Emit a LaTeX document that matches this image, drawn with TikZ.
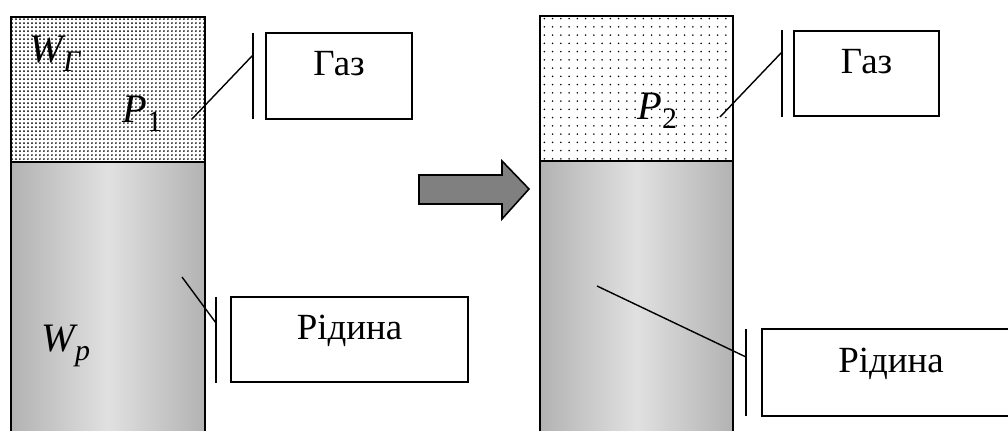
\documentclass[tikz,border=0pt]{standalone}
\usepackage{fontspec}
\setmainfont{Liberation Serif}
\usetikzlibrary{patterns.meta}
\newcommand{\lowidx}[1]{\raisebox{-0.2em}{\fontsize{17}{17}\selectfont #1}}

\begin{document}
\begin{tikzpicture}[x=0.02cm, y=-0.02cm,
    wall/.style={draw=black, line width=0.9pt},
    liquid/.style={wall, left color=black!30, right color=black!30, middle color=black!12},
    densegas/.style={wall, pattern={Dots[distance=0.08cm, radius=0.55pt]}},
    sparsegas/.style={wall, pattern={Dots[distance=0.165cm, radius=0.5pt]}},
    tagbox/.style={draw, line width=0.9pt, inner sep=0pt, text height=0.7em, text depth=0.7em,
      font=\fontsize{21}{25}\selectfont},
    qty/.style={inner sep=0pt, anchor=base west, font=\fontsize{23}{27}\selectfont\itshape},
    bar/.style={line width=1.1pt},
    leader/.style={line width=0.8pt}]
  \useasboundingbox (0,0) rectangle (1008,431);
  \clip (0,0) rectangle (1008,431);
  % left column, before
  \draw[densegas] (11,17) rectangle (205,162);
  \draw[liquid] (11,162) rectangle (205,445);
  \node[qty] (wgas) at (29,63) {W\lowidx{Г}};
  \node[qty] (p1) at (122,123) {P\lowidx{\upshape 1}};
  \node[qty] (wliq) at (41,352) {W\lowidx{p}};
  % right column, after
  \draw[sparsegas] (540,16) rectangle (733,161);
  \draw[liquid] (540,161) rectangle (733,445);
  \node[qty] (p2) at (637,120) {P\lowidx{\upshape 2}};
  % arrow between
  \draw[wall, fill=black!50] (419,175) -- (502,175) -- (502,161) -- (529,189)
    -- (502,219) -- (502,204) -- (419,204) -- cycle;
  % callouts
  \node[tagbox, minimum width=2.92cm, minimum height=1.72cm] (gas1) at (339,76) {Газ};
  \node[tagbox, minimum width=4.74cm, minimum height=1.70cm] (liq1) at (349.5,339.5) {Рідина};
  \node[tagbox, minimum width=2.90cm, minimum height=1.70cm] (gas2) at (866.5,73.5) {Газ};
  \node[tagbox, minimum width=5.16cm, minimum height=1.74cm] (liq2) at (891,372.5) {Рідина};
  \coordinate (g1top) at (253,33); \coordinate (g1bot) at (253,119);
  \coordinate (g1hit) at (253,55); \coordinate (g1in) at (192,119);
  \coordinate (l1top) at (216,297); \coordinate (l1bot) at (216,383);
  \coordinate (l1hit) at (216,323); \coordinate (l1in) at (182,277);
  \coordinate (g2top) at (782,30); \coordinate (g2bot) at (782,117);
  \coordinate (g2hit) at (782,52); \coordinate (g2in) at (720,117);
  \coordinate (l2top) at (746,329); \coordinate (l2bot) at (746,416);
  \coordinate (l2hit) at (746,357); \coordinate (l2in) at (597,286);
  \foreach \c in {g1,l1,g2,l2} {
    \draw[bar] (\c top) -- (\c bot);
    \draw[leader] (\c in) -- (\c hit);
  }
\end{tikzpicture}
\end{document}
